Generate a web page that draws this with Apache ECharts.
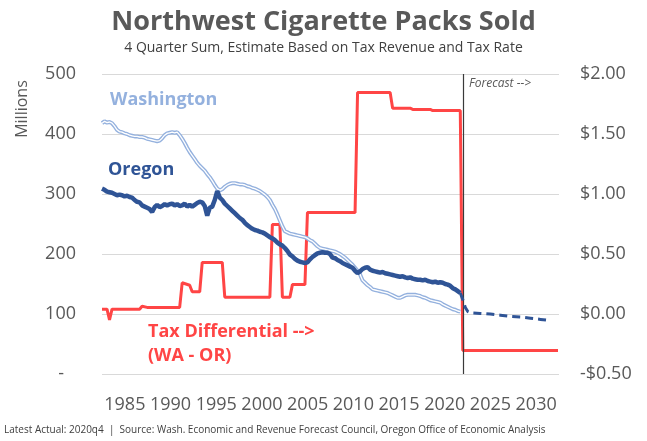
<!DOCTYPE html>
<html>
<head>
<meta charset="utf-8">
<script src="https://cdn.jsdelivr.net/npm/echarts@6/dist/echarts.min.js"></script>
<style>
  html, body { margin: 0; padding: 0; background: #ffffff; }
  #chart { width: 647px; height: 441px; }
</style>
</head>
<body>
<div id="chart"></div>
<script>
// Axis tick labels
const yearLabels = ['1985', '1990', '1995', '2000', '2005', '2010', '2015', '2020', '2025', '2030'];

// First quarter of the quarterly actuals (1985Q1)
const firstYear = 1985;

// Washington packs sold, millions, 4-quarter sum, quarterly 1985Q1-2020Q4
const waPacks = [
  418, 421, 419, 420,   // 1985
  418, 413, 407, 404,   // 1986
  403, 401, 400, 398,   // 1987
  397, 396, 396, 395,   // 1988
  395, 394, 392, 391,   // 1989
  390, 389, 388, 389,   // 1990
  393, 398, 401, 402,   // 1991
  403, 402, 403, 398,   // 1992
  392, 385, 377, 370,   // 1993
  364, 358, 352, 347,   // 1994
  343, 339, 333, 328,   // 1995
  322, 315, 309, 306,   // 1996
  308, 312, 315, 317,   // 1997
  318, 318, 317, 316,   // 1998
  316, 315, 313, 312,   // 1999
  310, 309, 307, 305,   // 2000
  302, 299, 295, 290,   // 2001
  282, 275, 266, 256,   // 2002
  246, 238, 236, 234,   // 2003
  233, 232, 231, 230,   // 2004
  229, 228, 226, 223,   // 2005
  221, 217, 213, 210,   // 2006
  209, 208, 207, 206,   // 2007
  205, 204, 202, 200,   // 2008
  197, 194, 190, 186,   // 2009
  182, 177, 172, 166,   // 2010
  156, 152, 148, 145,   // 2011
  141, 140, 139, 138,   // 2012
  137, 136, 135, 133,   // 2013
  131, 129, 127, 127,   // 2014
  129, 131, 132, 132,   // 2015
  132, 132, 131, 130,   // 2016
  128, 127, 125, 123,   // 2017
  122, 121, 120, 119,   // 2018
  116, 114, 112, 110,   // 2019
  108, 107, 105, 104    // 2020
];

// Oregon packs sold, millions, 4-quarter sum, quarterly 1985Q1-2020Q4
const orPacks = [
  309, 307, 304, 303,   // 1985
  302, 300, 298, 299,   // 1986
  298, 296, 297, 295,   // 1987
  294, 290, 287, 286,   // 1988
  281, 279, 277, 275,   // 1989
  270, 278, 282, 278,   // 1990
  280, 283, 281, 283,   // 1991
  284, 281, 283, 280,   // 1992
  281, 284, 279, 282,   // 1993
  279, 282, 285, 287,   // 1994
  286, 280, 264, 277,   // 1995
  279, 290, 305, 294,   // 1996
  290, 284, 280, 276,   // 1997
  272, 268, 264, 260,   // 1998
  257, 252, 248, 245,   // 1999
  242, 240, 239, 237,   // 2000
  236, 234, 231, 228,   // 2001
  226, 223, 219, 216,   // 2002
  214, 210, 205, 199,   // 2003
  196, 192, 189, 187,   // 2004
  186, 185, 186, 191,   // 2005
  195, 198, 201, 202,   // 2006
  203, 202, 202, 200,   // 2007
  194, 193, 190, 188,   // 2008
  185, 183, 181, 179,   // 2009
  177, 172, 168, 171,   // 2010
  175, 177, 178, 174,   // 2011
  172, 171, 170, 169,   // 2012
  170, 168, 167, 166,   // 2013
  165, 164, 163, 162,   // 2014
  163, 161, 160, 161,   // 2015
  159, 158, 157, 157,   // 2016
  156, 157, 155, 154,   // 2017
  153, 154, 152, 153,   // 2018
  152, 150, 149, 147,   // 2019
  143, 141, 138, 135    // 2020
];

// Oregon forecast (dashed), starting from the last actual quarter
const orForecastTime  = [2020.75, 2021.0, 2021.25, 2021.5, 2021.75, 2022.75, 2023.75, 2024.75, 2025.75, 2026.75, 2027.75, 2028.75, 2029.75];
const orForecastPacks = [135,     124,    111,     104,    102,     101,     100,     98,      96,      95,      93,      91,      89];

// Cigarette tax differential, WA minus OR, dollars per pack (quarterly points where the rate changes)
const taxDiffTime = [
  1985.0, 1985.5, 1985.75, 1986.0, 1988.75, 1989.0, 1989.5, 1992.75, 1993.0, 1993.75, 1994.0,
  1994.75, 1995.0, 1997.0, 1997.25, 2001.75, 2002.0, 2002.75, 2003.0, 2003.75, 2004.0,
  2005.25, 2005.5, 2010.25, 2010.5, 2013.75, 2014.0, 2015.75, 2016.0, 2017.75, 2018.0,
  2020.75, 2021.0, 2030.5
];
const taxDiffDollars = [
  0.04, 0.04, -0.05, 0.04, 0.04, 0.065, 0.055, 0.055, 0.26, 0.24, 0.185,
  0.185, 0.43, 0.43, 0.14, 0.14, 0.745, 0.745, 0.14, 0.14, 0.245,
  0.245, 0.845, 0.845, 1.845, 1.845, 1.715, 1.715, 1.705, 1.705, 1.695,
  1.695, -0.305, -0.305
];

// Start of the forecast period
const forecastStart = 2021;

const FONT = "'Open Sans', 'Noto Sans', sans-serif";
const GRAY = '#595959';
const RED = '#ff4545';
const OR_BLUE = '#2f5496';
const WA_BLUE = '#94b1de';

const quarterly = vals => vals.map((v, i) => [firstYear + i / 4, v]);
const zipPairs = (xs, ys) => xs.map((x, i) => [x, ys[i]]);

const chart = echarts.init(document.getElementById('chart'), null, { renderer: 'canvas' });

chart.setOption({
  animation: false,
  backgroundColor: '#ffffff',
  title: {
    text: 'Northwest Cigarette Packs Sold',
    subtext: '4 Quarter Sum, Estimate Based on Tax Revenue and Tax Rate',
    left: 'center',
    top: 4,
    itemGap: 5,
    textStyle: { fontFamily: FONT, fontSize: 27, fontWeight: 'bold', color: GRAY },
    subtextStyle: { fontFamily: FONT, fontSize: 14, color: '#404040' }
  },
  grid: { left: 102, right: 88, top: 74, bottom: 67 },
  xAxis: [
    { type: 'value', min: 1985, max: 2030.6, show: false },
    {
      type: 'category',
      data: yearLabels,
      position: 'bottom',
      boundaryGap: true,
      axisLine: { show: false },
      axisTick: { show: false },
      splitLine: { show: false },
      axisLabel: { interval: 0, fontFamily: FONT, fontSize: 18, color: GRAY, margin: 22 }
    }
  ],
  yAxis: [
    {
      type: 'value',
      min: 0,
      max: 500,
      interval: 100,
      axisLine: { show: false },
      axisTick: { show: false },
      splitLine: { lineStyle: { color: '#d9d9d9', width: 1 } },
      axisLabel: {
        fontFamily: FONT,
        fontSize: 18,
        color: GRAY,
        margin: 26,
        formatter: v => (v === 0 ? '{z|-}' : String(v)),
        rich: { z: { fontFamily: FONT, fontSize: 18, color: GRAY, padding: [0, 12, 0, 0] } }
      }
    },
    {
      type: 'value',
      min: -0.5,
      max: 2,
      interval: 0.5,
      position: 'right',
      axisLine: { show: false },
      axisTick: { show: false },
      splitLine: { show: false },
      axisLabel: {
        fontFamily: FONT,
        fontSize: 18,
        color: GRAY,
        margin: 21,
        formatter: v => (v < 0 ? '-$' + Math.abs(v).toFixed(2) : '$' + v.toFixed(2))
      }
    }
  ],
  series: [
    {
      name: 'Tax Differential',
      type: 'line',
      xAxisIndex: 0,
      yAxisIndex: 1,
      data: zipPairs(taxDiffTime, taxDiffDollars),
      symbol: 'none',
      lineStyle: { color: RED, width: 3 },
      z: 2
    },
    {
      name: 'Washington',
      type: 'line',
      xAxisIndex: 0,
      yAxisIndex: 0,
      data: quarterly(waPacks),
      symbol: 'none',
      lineStyle: { color: WA_BLUE, width: 4 },
      z: 3
    },
    {
      name: 'Washington core',
      type: 'line',
      xAxisIndex: 0,
      yAxisIndex: 0,
      data: quarterly(waPacks),
      symbol: 'none',
      lineStyle: { color: '#ffffff', width: 1.3 },
      z: 4
    },
    {
      name: 'Oregon',
      type: 'line',
      xAxisIndex: 0,
      yAxisIndex: 0,
      data: quarterly(orPacks),
      symbol: 'none',
      lineStyle: { color: OR_BLUE, width: 4.5 },
      z: 5
    },
    {
      name: 'Oregon forecast',
      type: 'line',
      xAxisIndex: 0,
      yAxisIndex: 0,
      data: zipPairs(orForecastTime, orForecastPacks),
      symbol: 'none',
      lineStyle: { color: OR_BLUE, width: 3, type: [8, 5] },
      z: 5,
      markLine: {
        silent: true,
        symbol: ['none', 'none'],
        label: { show: false },
        lineStyle: { color: '#3a3a3a', width: 1.2, type: 'solid' },
        data: [{ xAxis: forecastStart }]
      }
    }
  ],
  graphic: [
    {
      type: 'text', left: 110, top: 91,
      style: { text: 'Washington', fontFamily: FONT, fontSize: 18, fontWeight: 'bold', fill: WA_BLUE }
    },
    {
      type: 'text', left: 108, top: 161,
      style: { text: 'Oregon', fontFamily: FONT, fontSize: 18, fontWeight: 'bold', fill: OR_BLUE }
    },
    {
      type: 'text', left: 148, top: 323,
      style: { text: 'Tax Differential -->', fontFamily: FONT, fontSize: 18, fontWeight: 'bold', fill: RED }
    },
    {
      type: 'text', left: 148, top: 347,
      style: { text: '(WA - OR)', fontFamily: FONT, fontSize: 18, fontWeight: 'bold', fill: RED }
    },
    {
      type: 'text', left: 469, top: 78,
      style: { text: 'Forecast -->', fontFamily: FONT, fontSize: 12, fontStyle: 'italic', fill: GRAY }
    },
    {
      type: 'text', x: 22, y: 109, rotation: Math.PI / 2,
      style: { text: 'Millions', fontFamily: FONT, fontSize: 16, fill: GRAY, align: 'center', verticalAlign: 'middle' }
    },
    {
      type: 'text', left: 4, top: 425,
      style: {
        text: 'Latest Actual: 2020q4  |  Source: Wash. Economic and Revenue Forecast Council, Oregon Office of Economic Analysis',
        fontFamily: "'Liberation Sans Narrow', 'Open Sans', sans-serif", fontSize: 10, fill: '#404040'
      }
    }
  ]
});
</script>
</body>
</html>
